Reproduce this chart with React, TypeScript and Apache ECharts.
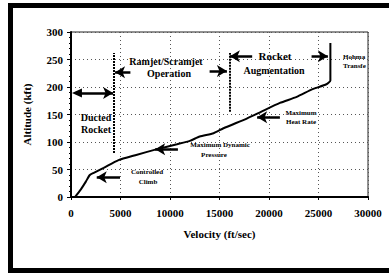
import React, { useEffect, useRef } from "react";
import * as echarts from "echarts";

// Trajectory: velocity (ft/sec) vs altitude (kft)
const velocity = [400, 1000, 1500, 1900, 2300, 3300, 4800, 6500, 8700, 10700, 12000, 13000, 14400, 15400, 17800, 19100, 21100, 22800, 24400, 25800, 26200, 26200];
const altitude = [0, 14, 28, 40, 44, 53, 67, 76, 87, 96, 102, 110, 116, 125, 143, 154, 171, 182, 196, 205, 212, 280];

const xTicks = [0, 30000, 5000];
const yTicks = [0, 300, 50];

// Phase boundary lines: [velocity, altitude from, altitude to]
const boundaries: [number, number, number][] = [
  [4300, 80, 262],
  [16050, 155, 262],
];

// Arrows: [v from, v to, altitude, double-headed]
const arrows: [number, number, number, boolean][] = [
  [600, 4250, 189, true],
  [6000, 4450, 227, false],
  [14000, 15750, 229, false],
  [18300, 16050, 256, false],
  [24300, 25950, 256, false],
  [21100, 18800, 145, false],
  [10800, 8500, 87, false],
  [4950, 2600, 36, false],
];

const serif = "'Liberation Serif', 'DejaVu Serif', serif";

export default function App() {
  const ref = useRef<HTMLDivElement>(null);
  useEffect(() => {
    if (!ref.current) return;
    const chart = echarts.init(ref.current, undefined, { renderer: "svg" });
    const lineData = velocity.map((v, i) => [v, altitude[i]]);

    const markLines: any[] = [];
    boundaries.forEach(([v, a0, a1]) => {
      markLines.push([
        { coord: [v, a0], symbol: "none", lineStyle: { type: [2, 1], width: 2, color: "#000" } },
        { coord: [v, a1], symbol: "none" },
      ]);
    });
    arrows.forEach(([v0, v1, a, dbl]) => {
      markLines.push([
        { coord: [v0, a], symbol: dbl ? "triangle" : "none", symbolRotate: dbl ? 90 : 0, lineStyle: { type: "solid", width: 2.5, color: "#000" } },
        { coord: [v1, a], symbol: "arrow" },
      ]);
    });

    const txt = (text: string, x: number, y: number, size: number, align = "center", extra: any = {}) => ({
      type: "text",
      x,
      y,
      silent: true,
      style: {
        text,
        x: 0,
        y: 0,
        fill: "#000",
        font: `bold ${size}px ${serif}`,
        align,
        verticalAlign: "middle",
        ...extra,
      },
    });

    chart.setOption({
      animation: false,
      backgroundColor: "#fff",
      grid: { left: 71, right: 21, top: 32, bottom: 78, show: true, borderColor: "#222", borderWidth: 1 },
      xAxis: {
        type: "value",
        min: xTicks[0],
        max: xTicks[1],
        interval: xTicks[2],
        name: "Velocity (ft/sec)",
        nameLocation: "middle",
        nameGap: 31,
        nameTextStyle: { fontFamily: serif, fontWeight: "bold", fontSize: 11, color: "#000" },
        axisLine: { lineStyle: { color: "#000", width: 2 } },
        axisTick: { show: true, inside: false, length: 3, lineStyle: { color: "#000" } },
        axisLabel: { fontFamily: serif, fontWeight: "bold", fontSize: 11, color: "#000", margin: 10, formatter: (v: number) => String(v) },
        splitLine: { show: true, lineStyle: { type: [1, 3], color: "#555" } },
      },
      yAxis: {
        type: "value",
        min: yTicks[0],
        max: yTicks[1],
        interval: yTicks[2],
        name: "Altitude (kft)",
        nameLocation: "middle",
        nameGap: 39,
        nameTextStyle: { fontFamily: serif, fontWeight: "bold", fontSize: 11, color: "#000" },
        axisLine: { lineStyle: { color: "#000", width: 2 } },
        axisTick: { show: true, length: 4, lineStyle: { color: "#000" } },
        minorTick: { show: true, splitNumber: 5, length: 2, lineStyle: { color: "#000" } },
        axisLabel: { fontFamily: serif, fontWeight: "bold", fontSize: 11, color: "#000", margin: 8, formatter: (v: number) => String(v) },
        splitLine: { show: true, lineStyle: { type: [1, 3], color: "#555" } },
      },
      series: [
        {
          type: "line",
          data: lineData,
          showSymbol: false,
          smooth: 0.2,
          lineStyle: { color: "#000", width: 2 },
          markLine: {
            silent: true,
            symbolSize: [9, 10],
            label: { show: false },
            lineStyle: { color: "#000" },
            data: markLines,
          },
        },
      ],
      graphic: [
        // frame
        { type: "rect", shape: { x: 8, y: 3, width: 5, height: 270 }, style: { fill: "#000" }, silent: true },
        { type: "rect", shape: { x: 8, y: 3, width: 381, height: 5 }, style: { fill: "#000" }, silent: true },
        { type: "rect", shape: { x: 8, y: 268, width: 381, height: 5 }, style: { fill: "#000" }, silent: true },
        txt("Ducted", 96, 117, 10),
        txt("Rocket", 96, 129, 10),
        txt("Ramjet/Scramjet", 166, 61, 10),
        txt("Operation", 169, 73, 10),
        txt("Rocket", 275, 56, 11),
        txt("Augmentation", 274, 70, 10),
        txt("Hohmann", 343, 57, 7, "left", { width: 24, overflow: "truncate", ellipsis: "" }),
        txt("Transfer", 343, 66, 7, "left", { width: 24, overflow: "truncate", ellipsis: "" }),
        txt("Maximum", 301, 113, 7),
        txt("Heat Rate", 301, 122, 7),
        txt("Maximum Dynamic", 220, 145, 7),
        txt("Pressure", 214, 155, 7),
        txt("Controlled", 147, 172, 7),
        txt("Climb", 148, 182, 7),
      ],
    });
    return () => chart.dispose();
  }, []);
  return <div ref={ref} style={{ width: 389, height: 275, position: "absolute", left: 0, top: 0 }} />;
}
